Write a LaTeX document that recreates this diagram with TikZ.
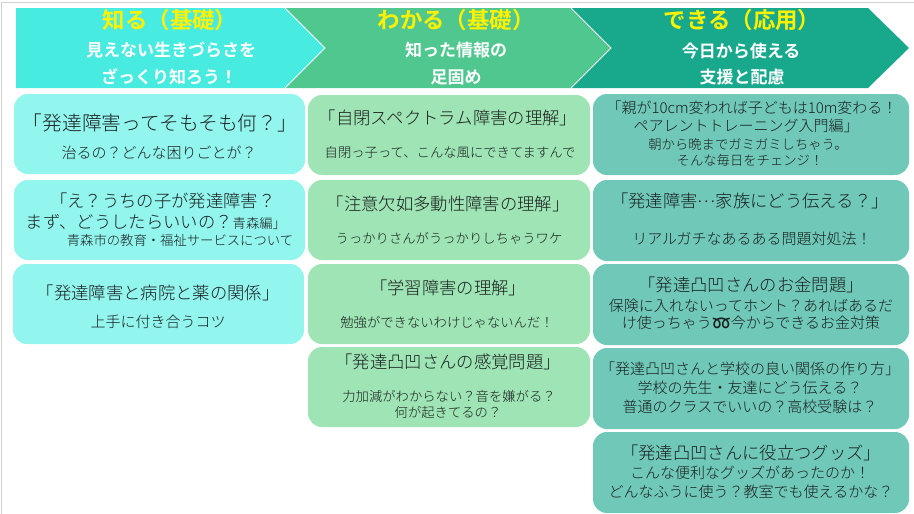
\documentclass[tikz,border=0pt]{standalone}
\usepackage{fontspec}
\setmainfont{Noto Sans CJK JP Light}[BoldFont=Noto Sans CJK JP Bold]
\newfontfamily\emojifont{Noto Emoji}
\definecolor{mycyan}{RGB}{71, 235, 224}
\definecolor{mygreen}{RGB}{80, 199, 143}
\definecolor{myteal}{RGB}{24, 169, 141}
\definecolor{cardcyan}{RGB}{146, 245, 238}
\definecolor{cardgreen}{RGB}{158, 228, 180}
\definecolor{cardteal}{RGB}{112, 201, 184}
\definecolor{myink}{RGB}{25, 30, 30}
\tikzset{every picture/.style={line width=0.75pt}}
\tikzset{
  cardshape/.style={rounded corners=10.5pt},
  headtitle/.style={inner sep=0pt,text=yellow,font=\fontsize{16.8}{19}\selectfont\bfseries},
  headsub/.style={inner sep=0pt,text=white,font=\fontsize{12.75}{15}\selectfont\bfseries},
  linehuge/.style={inner sep=0pt,text=myink,font=\fontsize{14.8}{17}\selectfont},
  linebig/.style={inner sep=0pt,text=myink,font=\fontsize{13}{15}\selectfont},
  linemid/.style={inner sep=0pt,text=myink,font=\fontsize{11.25}{13}\selectfont},
  linesmall/.style={inner sep=0pt,text=myink,font=\fontsize{10}{12}\selectfont},
}

\begin{document}
\begin{tikzpicture}[x=0.75pt,y=0.75pt,yscale=-1,xscale=1]
\useasboundingbox (0,0) rectangle (914,514);

%Page edge
\draw [color=black!18] (1,514) -- (1,2) -- (914,2) ;

%Shape: Chevrons
\fill [mycyan] (16,8) -- (285,8) -- (325,48) -- (285,88) -- (16,88) -- cycle ;
\fill [mygreen] (285,8) -- (571,8) -- (611,48) -- (571,88) -- (285,88) -- (325,48) -- cycle ;
\fill [myteal] (571,8) -- (868,8) -- (909,48) -- (868,88) -- (571,88) -- (611,48) -- cycle ;
\draw [white] (285,8) -- (325,48) -- (285,88) ;
\draw [white] (571,8) -- (611,48) -- (571,88) ;

%Shape: Cards, first column
\fill [cardcyan,cardshape] (14,94) rectangle (305,174) ;
\fill [cardcyan,cardshape] (14,180) rectangle (305,260) ;
\fill [cardcyan,cardshape] (13,264) rectangle (304,344) ;
%Shape: Cards, second column
\fill [cardgreen,cardshape] (308,95) rectangle (590,175) ;
\fill [cardgreen,cardshape] (308,180) rectangle (590,260) ;
\fill [cardgreen,cardshape] (308,264) rectangle (590,344) ;
\fill [cardgreen,cardshape] (308,347) rectangle (590,427) ;
%Shape: Cards, third column
\fill [cardteal,cardshape] (593,94) rectangle (909,175) ;
\fill [cardteal,cardshape] (593,180) rectangle (909,261) ;
\fill [cardteal,cardshape] (593,264) rectangle (909,345) ;
\fill [cardteal,cardshape] (593,348) rectangle (909,429) ;
\fill [cardteal,cardshape] (593,432) rectangle (909,513) ;

% Text Node
\node [headtitle] (titleA) at (170,20) {知る（基礎）};
\node [headsub] (subAa) at (171,50) {見えない生きづらさを};
\node [headsub] (subAb) at (169,77) {ざっくり知ろう！};
\node [headtitle] (titleB) at (456,20) {わかる（基礎）};
\node [headsub] (subBa) at (456,50) {知った情報の};
\node [headsub] (subBb) at (456,77) {足固め};
\node [headtitle] (titleC) at (742,20) {できる（応用）};
\node [headsub] (subCa) at (741,51) {今日から使える};
\node [headsub] (subCb) at (742,77) {支援と配慮};

% Text Node
\node [linehuge] (cardAa) at (160,123) {「発達障害ってそもそも何？」};
\node [linemid] (cardAb) at (159,153) {治るの？どんな困りごとが？};
\node [linebig] (cardBa) at (163,201) {「え？うちの子が発達障害？};
\node [linebig] (cardBb) at (156,222) {まず、どうしたらいいの？{\fontsize{10}{12}\selectfont 青森編」}};
\node [linesmall] (cardBc) at (180,240) {青森市の教育・福祉サービスについて};
\node [linebig] (cardCa) at (158,293) {「発達障害と病院と薬の関係」};
\node [linemid] (cardCb) at (158,322) {上手に付き合うコツ};

% Text Node
\node [linebig] (cardDa) at (448,118) {「自閉スペクトラム障害の理解」};
\node [linesmall] (cardDb) at (450,152) {自閉っ子って、こんな風にできてますんで};
\node [linebig] (cardEa) at (448,204) {「注意欠如多動性障害の理解」};
\node [linesmall] (cardEb) at (449,238) {うっかりさんがうっかりしちゃうワケ};
\node [linebig] (cardFa) at (448,288) {「学習障害の理解」};
\node [linesmall] (cardFb) at (447,322) {勉強ができないわけじゃないんだ！};
\node [linebig] (cardGa) at (448,362) {「発達凸凹さんの感覚問題」};
\node [linesmall] (cardGb) at (449,396) {力加減がわからない？音を嫌がる？};
\node [linesmall] (cardGc) at (448,412) {何が起きてるの？};

% Text Node
\node [linemid] (cardHa) at (752,108) {「親が10cm変われば子どもは10m変わる！};
\node [linemid] (cardHb) at (746,126) {ペアレントトレーニング入門編」};
\node [linesmall] (cardHc) at (748,144) {朝から晩までガミガミしちゃう。};
\node [linesmall] (cardHd) at (750,160) {そんな毎日をチェンジ！};
\node [linebig] (cardIa) at (750,201) {「発達障害\raisebox{0.3em}{…}家族にどう伝える？」};
\node [linemid] (cardIb) at (752,239) {リアルガチなあるある問題対処法！};
\node [linebig] (cardJa) at (751,285) {「発達凸凹さんのお金問題」};
\node [linemid] (cardJb) at (751,306) {保険に入れないってホント？あればあるだ};
\node [linemid] (cardJc) at (751,323) {け使っちゃう{\emojifont ➿}今からできるお金対策};
\node [linemid] (cardKa) at (750,369) {「発達凸凹さんと学校の良い関係の作り方」};
\node [linemid] (cardKb) at (750,388) {学校の先生・友達にどう伝える？};
\node [linemid] (cardKc) at (750,407) {普通のクラスでいいの？高校受験は？};
\node [linebig] (cardLa) at (751,453) {「発達凸凹さんに役立つグッズ」};
\node [linemid] (cardLb) at (750,473) {こんな便利なグッズがあったのか！};
\node [linemid] (cardLc) at (751,492) {どんなふうに使う？教室でも使えるかな？};

\end{tikzpicture}
\end{document}
